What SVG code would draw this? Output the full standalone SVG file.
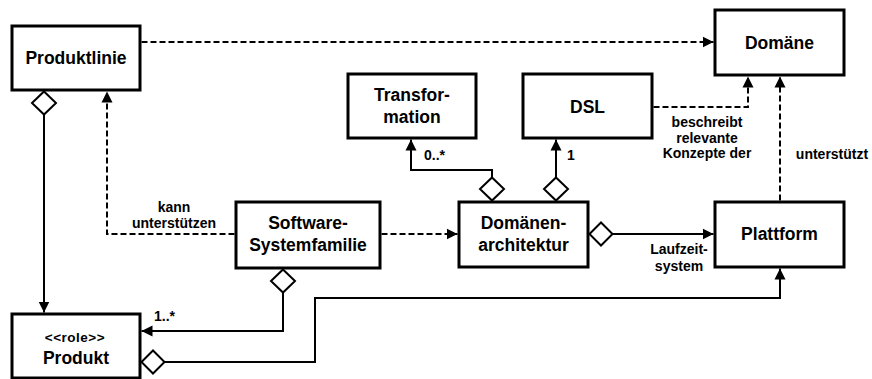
<svg xmlns="http://www.w3.org/2000/svg" width="872" height="379" viewBox="0 0 872 379">
<style>
.box{fill:#fff;stroke:#000;stroke-width:3}
.t{font-family:"Liberation Sans",Arial,sans-serif;font-weight:bold;font-size:17.5px;text-anchor:middle;fill:#000}
.s{font-family:"Liberation Sans",Arial,sans-serif;font-weight:bold;font-size:14px;fill:#000}
.m{text-anchor:middle}
.ln{fill:none;stroke:#000;stroke-width:2}
.d{stroke-dasharray:6 3}
.dia{fill:#fff;stroke:#000;stroke-width:2}
</style>
<defs>
<marker id="ah" viewBox="0 0 12 12" refX="11" refY="6" markerWidth="12" markerHeight="12" markerUnits="userSpaceOnUse" orient="auto">
<path d="M0,0.5 L11,6 L0,11.5 Z" fill="#000"/>
</marker>
</defs>
<rect width="872" height="379" fill="#fff"/>
<g id="connectors">
<path class="ln d" d="M141.5,42 H713.5" marker-end="url(#ah)"/>
<polygon class="dia" points="44,91.5 56,103 44,114.5 32,103"/>
<path class="ln" d="M44,114.5 V312.5" marker-end="url(#ah)"/>
<path class="ln d" d="M234.5,234 H107 V91.5" marker-end="url(#ah)"/>
<path class="ln d" d="M381.5,234 H457.5" marker-end="url(#ah)"/>
<polygon class="dia" points="283,269.5 295,281 283,292.5 271,281"/>
<path class="ln" d="M283,292.5 V331 H141.5" marker-end="url(#ah)"/>
<polygon class="dia" points="141.5,362 153,350.5 164.5,362 153,373.5"/>
<path class="ln" d="M164.5,362 H315 V298 H780 V268.5" marker-end="url(#ah)"/>
<polygon class="dia" points="492,177.5 504,189 492,200.5 480,189"/>
<path class="ln" d="M492,177.5 V170 H411 V139.5" marker-end="url(#ah)"/>
<polygon class="dia" points="556,177.5 568,189 556,200.5 544,189"/>
<path class="ln" d="M556,177.5 V139.5" marker-end="url(#ah)"/>
<polygon class="dia" points="589.5,234 601,222.5 612.5,234 601,245.5"/>
<path class="ln" d="M612.5,234 H713.5" marker-end="url(#ah)"/>
<path class="ln d" d="M653.5,107 H748 V76.5" marker-end="url(#ah)"/>
<path class="ln d" d="M780,200.5 V76.5" marker-end="url(#ah)"/>
<text class="s m" x="174" y="212">kann</text>
<text class="s m" x="174" y="228">unterstützen</text>
<text class="s" x="154" y="321">1..*</text>
<text class="s" x="424" y="160">0..*</text>
<text class="s" x="567" y="160">1</text>
<text class="s m" x="707" y="127">beschreibt</text>
<text class="s m" x="707" y="142.5">relevante</text>
<text class="s m" x="707" y="158">Konzepte der</text>
<text class="s m" x="832" y="159">unterstützt</text>
<text class="s m" x="679" y="254">Laufzeit-</text>
<text class="s m" x="679" y="271">system</text>
</g>
<g id="produktlinie">
<rect class="box" x="12" y="26" width="128" height="64"/>
<text class="t" x="76" y="64">Produktlinie</text>
</g>
<g id="domaene">
<rect class="box" x="715" y="10" width="129" height="65"/>
<text class="t" x="779.5" y="49">Domäne</text>
</g>
<g id="transformation">
<rect class="box" x="348" y="74" width="128" height="64"/>
<text class="t" x="412" y="101">Transfor-</text>
<text class="t" x="412" y="123">mation</text>
</g>
<g id="dsl">
<rect class="box" x="523" y="74" width="129" height="64"/>
<text class="t" x="587.5" y="113">DSL</text>
</g>
<g id="softwaresystemfamilie">
<rect class="box" x="236" y="202" width="144" height="66"/>
<text class="t" x="308" y="229">Software-</text>
<text class="t" x="308" y="251">Systemfamilie</text>
</g>
<g id="domaenenarchitektur">
<rect class="box" x="459" y="202" width="129" height="65"/>
<text class="t" x="523.5" y="229">Domänen-</text>
<text class="t" x="523.5" y="251">architektur</text>
</g>
<g id="plattform">
<rect class="box" x="715" y="202" width="129" height="65"/>
<text class="t" x="779.5" y="239.5">Plattform</text>
</g>
<g id="produkt">
<rect class="box" x="12" y="314" width="128" height="64"/>
<text class="s m" x="75" y="341.5" style="font-size:13.5px;letter-spacing:0.5px">&lt;&lt;role&gt;&gt;</text>
<text class="t" x="76" y="363.5">Produkt</text>
</g>
</svg>
